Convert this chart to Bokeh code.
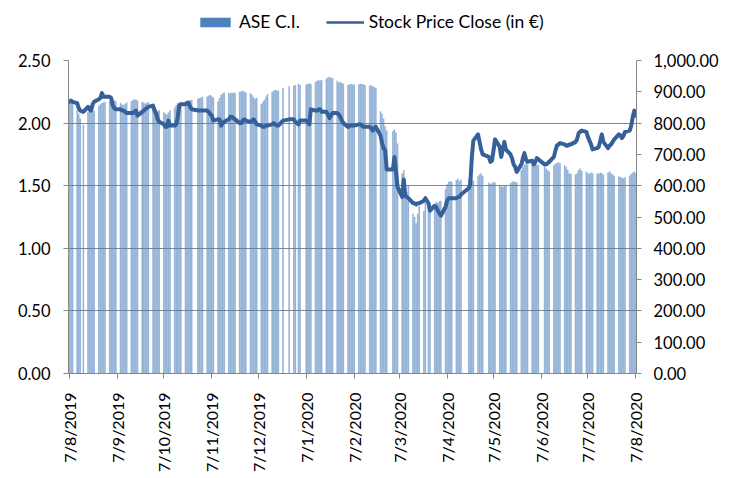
import math
import pandas as pd
from bokeh.plotting import figure
from bokeh.layouts import column
from bokeh.models import (Range1d, LinearAxis, FixedTicker, NumeralTickFormatter,
                          CustomJSTickFormatter, Legend, LegendItem, ColumnDataSource)
from bokeh.embed import file_html
from bokeh.resources import INLINE

# ---------------- data ----------------
start_date = "2019-08-07"
end_date = "2020-08-07"
holidays = ["2019-08-15", "2019-10-28", "2019-12-24", "2019-12-25", "2019-12-26",
            "2020-01-01", "2020-01-06", "2020-03-02", "2020-03-25", "2020-04-17",
            "2020-04-20", "2020-05-01", "2020-06-08"]

# ASE C.I. (right axis), one value per trading day
ase = [
    874, 876, 870,                  # Aug 7-9
    842, 830, 815, 795,             # Aug 12-16
    836, 840, 845, 842, 838,
    855, 860, 864, 866, 868,
    870, 872, 875, 873, 870,        # Sep 2-6
    865, 860, 858, 862, 866,
    870, 874, 876, 875, 872,
    868, 866, 862, 865, 867,
    860, 855, 845, 838, 842,        # Sep 30 - Oct 4
    835, 830, 828, 834, 840,
    850, 858, 864, 866, 868,
    870, 872, 874, 873, 875,
    878, 880, 882, 884,             # Oct 29 - Nov 1
    885, 888, 890, 886, 882,
    870, 880, 890, 895, 898,
    897, 895, 898, 896, 897,
    900, 902, 903, 900, 898,
    896, 890, 882, 878, 880,        # Dec 2-6
    862, 868, 875, 885, 893,
    900, 904, 906, 905, 903,
    912, 918,                       # Dec 23, 27
    920, 922, 926, 922,             # Dec 30 - Jan 3
    923, 925, 927, 925,             # Jan 7-10
    932, 935, 937, 936, 938,
    942, 945, 948, 946, 944,
    935, 930, 932, 928, 926,
    922, 924, 925, 923, 924,        # Feb 3-7
    924, 926, 925, 924, 922,
    920, 921, 918, 915, 912,
    838, 830, 815, 790, 776,
    775, 780, 770, 735,             # Mar 3-6
    640, 650, 620, 580, 600,
    510, 500, 480, 510, 535,
    520, 545, 540, 535,
    540, 548, 545, 550, 552,        # Mar 30 - Apr 3
    590, 605, 612, 615, 612,
    618, 622, 615, 620,
    622, 618, 620, 616,
    630, 636, 640, 632,
    610, 605, 608, 612, 610,        # May 4-8
    600, 598, 596, 600, 602,
    608, 612, 614, 612, 610,
    650, 660, 668, 670, 668,
    666, 668, 670, 668, 666,        # Jun 1-5
    660, 655, 650, 645,
    665, 670, 672, 675, 672,
    665, 660, 650, 640, 638,
    636, 640, 650, 655, 648,        # Jun 29 - Jul 3
    645, 640, 638, 642, 640,
    640, 638, 642, 640, 636,
    642, 646, 640, 636, 632,
    630, 628, 626, 624, 628,
    632, 638, 642, 645, 640,        # Aug 3-7
]

# Stock Price Close in EUR (left axis)
stock = [
    2.17, 2.18, 2.17,
    2.16, 2.12, 2.10, 2.09,
    2.13, 2.11, 2.10, 2.15, 2.17,
    2.19, 2.20, 2.24, 2.21, 2.21,
    2.21, 2.20, 2.14, 2.12, 2.11,
    2.11, 2.10, 2.10, 2.09, 2.08,
    2.08, 2.08, 2.09, 2.10, 2.06,
    2.09, 2.10, 2.11, 2.12, 2.13,
    2.14, 2.10, 2.08, 2.03, 2.01,
    1.99, 1.97, 1.97, 2.02, 1.98,
    1.98, 1.99, 2.05, 2.14, 2.15,
    2.15, 2.16, 2.16, 2.13, 2.11,
    2.10, 2.10, 2.10, 2.10,
    2.10, 2.09, 2.07, 2.06, 2.02,
    2.03, 2.03, 1.98, 2.00, 2.01,
    2.03, 2.05, 2.05, 2.04, 2.03,
    2.00, 2.00, 2.02, 2.03, 2.02,
    2.01, 2.02, 2.03, 2.01, 1.99,
    1.98, 1.97, 1.97, 1.98, 1.98,
    1.99, 2.00, 1.99, 1.98, 1.98,
    2.02, 2.03,
    2.03, 2.01, 1.99, 2.02,
    2.02, 2.01, 1.99, 2.11,
    2.10, 2.10, 2.11, 2.11, 2.09,
    2.09, 2.07, 2.04, 2.06, 2.08,
    2.08, 2.07, 2.05, 2.02, 2.00,
    1.97, 1.98, 1.98, 1.98, 1.98,
    1.99, 1.99, 1.98, 1.97, 1.97,
    1.97, 1.96, 1.94, 1.96, 1.97,
    1.90, 1.84, 1.80, 1.78, 1.63,
    1.63, 1.73, 1.62, 1.49,
    1.41, 1.55, 1.42, 1.41, 1.40,
    1.36, 1.36, 1.35, 1.36, 1.36,
    1.38, 1.40, 1.36, 1.30,
    1.34, 1.33, 1.30, 1.28, 1.26,
    1.33, 1.38, 1.40, 1.40, 1.40,
    1.40, 1.41, 1.41, 1.43,
    1.48, 1.51, 1.73, 1.86,
    1.91, 1.85, 1.79, 1.75,
    1.73, 1.69, 1.70, 1.78, 1.87,
    1.81, 1.73, 1.79, 1.85, 1.79,
    1.75, 1.72, 1.67, 1.65, 1.61,
    1.67, 1.72, 1.76, 1.71, 1.69,
    1.70, 1.67, 1.69, 1.72, 1.71,
    1.67, 1.67, 1.68, 1.69,
    1.73, 1.78, 1.82, 1.83, 1.84,
    1.83, 1.82, 1.82, 1.83, 1.83,
    1.85, 1.87, 1.92, 1.93, 1.94,
    1.93, 1.89, 1.86, 1.83, 1.79,
    1.80, 1.81, 1.86, 1.91, 1.85,
    1.80, 1.82, 1.83, 1.85, 1.87,
    1.91, 1.90, 1.88, 1.90, 1.93,
    1.94, 1.98, 2.05, 2.10, 2.06,
]

tick_dates = ["2019-08-07", "2019-09-07", "2019-10-07", "2019-11-07", "2019-12-07",
              "2020-01-07", "2020-02-07", "2020-03-07", "2020-04-07", "2020-05-07",
              "2020-06-07", "2020-07-07", "2020-08-07"]
tick_labels = ["7/8/2019", "7/9/2019", "7/10/2019", "7/11/2019", "7/12/2019",
               "7/1/2020", "7/2/2020", "7/3/2020", "7/4/2020", "7/5/2020",
               "7/6/2020", "7/7/2020", "7/8/2020"]
left_ticks = [0, 0.5, 1.0, 1.5, 2.0, 2.5]
right_ticks = [0, 100, 200, 300, 400, 500, 600, 700, 800, 900, 1000]
series_names = ["ASE C.I.", "Stock Price Close (in €)"]

# ---------------- build ----------------
days = [d for d in pd.bdate_range(start_date, end_date) if d.strftime("%Y-%m-%d") not in holidays]
assert len(days) == len(ase) == len(stock), (len(days), len(ase), len(stock))
src = ColumnDataSource(dict(date=days, ase=ase, stock=stock))

DAY = 86400000
t0 = pd.Timestamp(start_date).value // 10**6
t1 = pd.Timestamp(end_date).value // 10**6
tick_ms = [pd.Timestamp(t).value // 10**6 for t in tick_dates]

FONT = "Lato"
BLUE = "#4F81BD"
LINE = "#36609A"
GRAY = "#868686"
W = 733

# ---- legend strip (separate small figure above the chart) ----
lf = figure(width=W, height=40, x_range=Range1d(0, 1), y_range=Range1d(0, 1),
            output_backend="svg", toolbar_location=None,
            x_axis_location=None, y_axis_location=None, min_border=0)
lf.outline_line_color = None
lf.grid.visible = False
# legend key renderers: their single point lies outside the strip's ranges, so only the key shows
offstrip = ColumnDataSource(dict(x=[5, 6], v=[5, 5]))
leg_bar = lf.vbar(x="x", top="v", bottom=4, width=0.5, source=offstrip,
                  fill_color=BLUE, line_color=None)
leg_line = lf.line(x="x", y="v", source=offstrip, line_color=LINE, line_width=2.5)
legend = Legend(items=[LegendItem(label=series_names[0], renderers=[leg_bar]),
                       LegendItem(label=series_names[1], renderers=[leg_line])],
                orientation="horizontal", location=(128, 8),
                glyph_width=38, glyph_height=12, label_height=12,
                label_standoff=5, spacing=26, padding=0, margin=0,
                label_text_font=FONT, label_text_font_size="17.5px",
                label_text_color="#000000",
                border_line_color=None, background_fill_alpha=0)
lf.add_layout(legend, "center")

# ---- main chart ----
p = figure(width=W, height=436, x_axis_type="datetime",
           x_range=Range1d(t0 - 0.6 * DAY, t1 + 0.4 * DAY),
           y_range=Range1d(0, 2.5),
           output_backend="svg", toolbar_location=None,
           min_border_left=68, min_border_right=97, min_border_top=20, min_border_bottom=103)
p.extra_y_ranges = {"ase": Range1d(0, 1000)}
p.outline_line_color = None

bars = p.vbar(x="date", top="ase", bottom=0, width=DAY, y_range_name="ase", source=src,
              fill_color=BLUE, fill_alpha=0.6, line_color=None)
line = p.line(x="date", y="stock", source=src, line_color=LINE, line_width=4,
              line_join="round", line_cap="round")

xa = p.xaxis[0]
xa.ticker = FixedTicker(ticks=tick_ms)
xa.formatter = CustomJSTickFormatter(args=dict(tms=tick_ms, lbls=tick_labels),
                                     code="const i = tms.indexOf(tick); return i >= 0 ? lbls[i] : '';")
xa.major_label_orientation = math.pi / 2
ya = p.yaxis[0]
ya.ticker = FixedTicker(ticks=left_ticks)
ya.formatter = NumeralTickFormatter(format="0.00")

ra = LinearAxis(y_range_name="ase", ticker=FixedTicker(ticks=right_ticks),
                formatter=NumeralTickFormatter(format="0,0.00"))
p.add_layout(ra, "right")

for ax in (xa, ya, ra):
    ax.axis_line_color = GRAY
    ax.major_tick_line_color = GRAY
    ax.minor_tick_line_color = None
    ax.major_tick_in = 0
    ax.major_tick_out = 5
    ax.major_label_text_font = FONT
    ax.major_label_text_font_size = "16.5px"
    ax.major_label_text_color = "#000000"
xa.major_label_text_font_size = "16px"
xa.major_label_standoff = 14
ya.major_label_standoff = 13
ra.major_label_standoff = 12

p.xgrid.grid_line_color = None
p.ygrid.grid_line_color = GRAY
p.ygrid.ticker = FixedTicker(ticks=left_ticks)

layout = column(lf, p, spacing=0)
open("out.html", "w").write(file_html(layout, INLINE))
